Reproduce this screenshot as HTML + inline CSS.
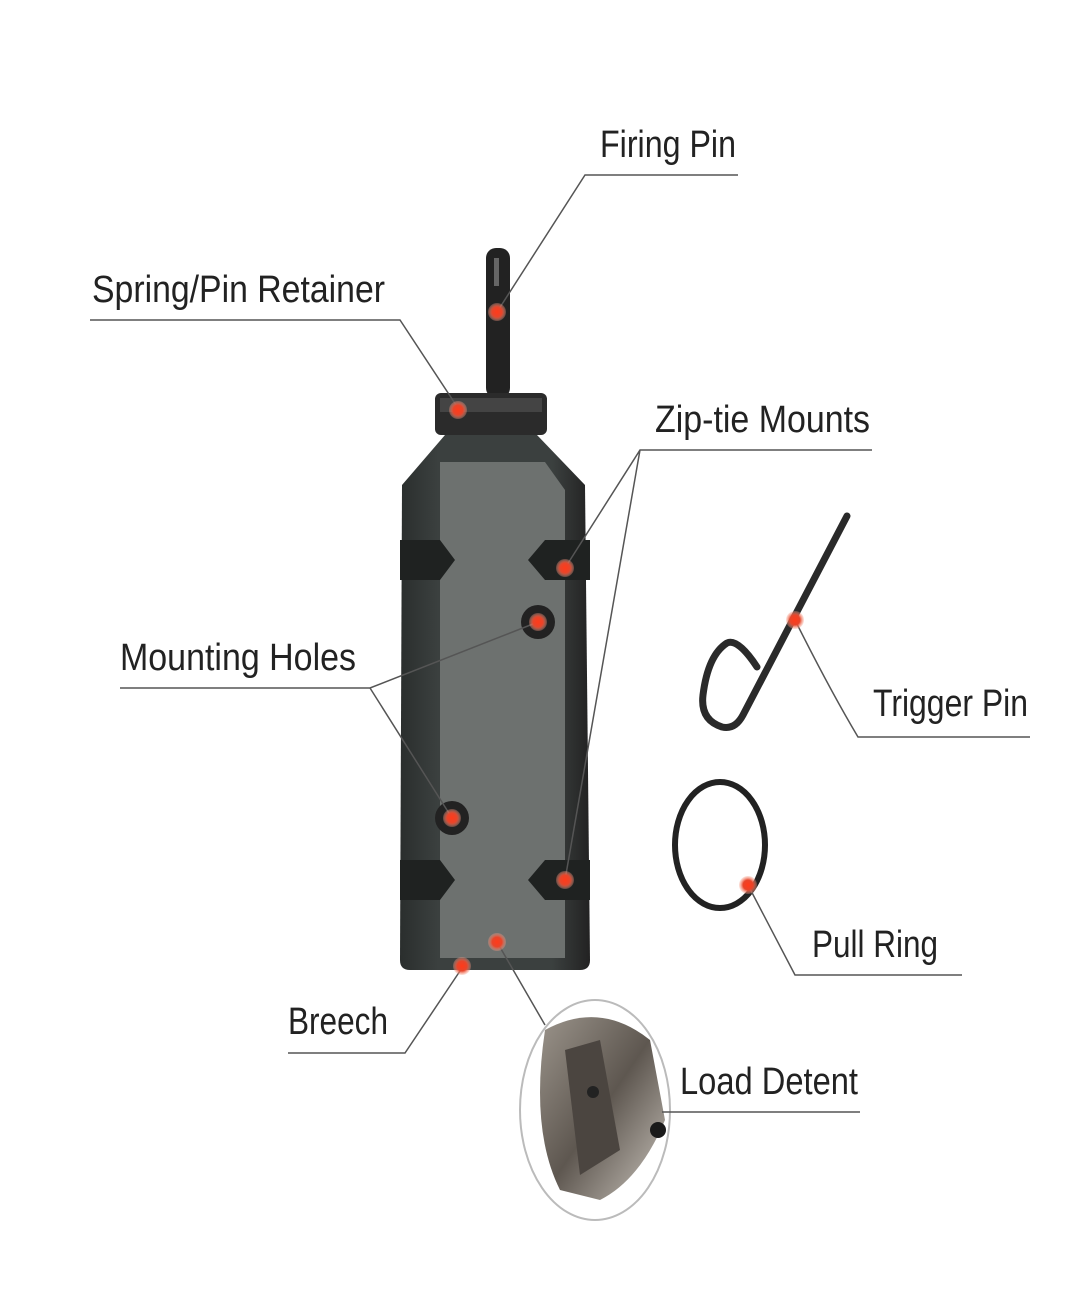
<!DOCTYPE html>
<html><head><meta charset="utf-8"><style>html,body{margin:0;padding:0;background:#fff}svg{display:block}</style></head>
<body>
<svg width="1079" height="1303" viewBox="0 0 1079 1303" xmlns="http://www.w3.org/2000/svg">
<defs>
<radialGradient id="dot"><stop offset="0" stop-color="#ff3a1a"/><stop offset="0.55" stop-color="#e8452a"/><stop offset="1" stop-color="#f7a08a" stop-opacity="0.3"/></radialGradient>
<linearGradient id="body" x1="0" x2="1"><stop offset="0" stop-color="#2a2e2d"/><stop offset="0.2" stop-color="#3b403f"/><stop offset="0.8" stop-color="#3b403f"/><stop offset="1" stop-color="#222"/></linearGradient>
<linearGradient id="metal" x1="0" x2="1" y1="0" y2="1"><stop offset="0" stop-color="#9a938a"/><stop offset="0.5" stop-color="#5e5750"/><stop offset="1" stop-color="#c9c3bb"/></linearGradient>
</defs>
<g font-family="Liberation Sans, sans-serif" font-size="38" fill="#222">
<text x="600" y="157" textLength="136" lengthAdjust="spacingAndGlyphs">Firing Pin</text>
<text x="92" y="302" textLength="293" lengthAdjust="spacingAndGlyphs">Spring/Pin Retainer</text>
<text x="655" y="432" textLength="215" lengthAdjust="spacingAndGlyphs">Zip-tie Mounts</text>
<text x="120" y="670" textLength="236" lengthAdjust="spacingAndGlyphs">Mounting Holes</text>
<text x="873" y="716" textLength="155" lengthAdjust="spacingAndGlyphs">Trigger Pin</text>
<text x="812" y="957" textLength="126" lengthAdjust="spacingAndGlyphs">Pull Ring</text>
<text x="288" y="1034" textLength="100" lengthAdjust="spacingAndGlyphs">Breech</text>
<text x="680" y="1094" textLength="178" lengthAdjust="spacingAndGlyphs">Load Detent</text>
</g>
<rect x="486" y="248" width="24" height="150" rx="10" fill="#222"/>
<rect x="494" y="258" width="5" height="28" fill="#666"/>
<rect x="435" y="393" width="112" height="42" rx="6" fill="#2b2b2b"/>
<rect x="440" y="398" width="102" height="14" fill="#555" opacity="0.6"/>
<path d="M445 435 L537 435 L585 485 L590 960 Q590 970 580 970 L410 970 Q400 970 400 960 L402 485 Z" fill="url(#body)"/>
<path d="M440 462 L545 462 L565 490 L565 958 L440 958 Z" fill="#6d716f"/>
<g fill="#1f2221">
<path d="M400 540 L440 540 L455 560 L440 580 L400 580 Z"/>
<path d="M590 540 L545 540 L528 560 L545 580 L590 580 Z"/>
<path d="M400 860 L440 860 L455 880 L440 900 L400 900 Z"/>
<path d="M590 860 L545 860 L528 880 L545 900 L590 900 Z"/>
</g>
<circle cx="538" cy="622" r="17" fill="#222"/>
<circle cx="452" cy="818" r="17" fill="#222"/>
<path d="M847 516 L743 715 Q735 730 722 727 Q700 720 703 695 Q708 655 727 643 Q738 638 757 667" fill="none" stroke="#2a2a2a" stroke-width="7" stroke-linecap="round" stroke-linejoin="round"/>
<ellipse cx="720" cy="845" rx="45" ry="63" fill="none" stroke="#222" stroke-width="6"/>
<ellipse cx="595" cy="1110" rx="75" ry="110" fill="#fff" stroke="#bbb" stroke-width="2"/>
<path d="M545 1030 Q600 1000 650 1040 L665 1120 Q640 1180 600 1200 L560 1190 Q530 1130 545 1030 Z" fill="url(#metal)"/>
<path d="M565 1050 L600 1040 L620 1150 L580 1175 Z" fill="#4b4540"/>
<circle cx="593" cy="1092" r="6" fill="#222"/>
<circle cx="658" cy="1130" r="8" fill="#1a1a1a"/>
<g stroke="#555" stroke-width="1.5" fill="none">
<path d="M738 175 L585 175 L497 312"/>
<path d="M90 320 L400 320 L458 408"/>
<path d="M872 450 L640 450 L565 568 M640 450 L565 880"/>
<path d="M120 688 L370 688 L538 622 M370 688 L452 818"/>
<path d="M1030 737 L858 737 Q830 690 795 620"/>
<path d="M962 975 L795 975 L748 885"/>
<path d="M288 1053 L405 1053 L462 968"/>
<path d="M860 1112 L662 1112 M545 1025 L497 942"/>
</g>
<g fill="url(#dot)">
<circle cx="497" cy="312" r="9"/><circle cx="458" cy="410" r="9"/>
<circle cx="565" cy="568" r="9"/><circle cx="538" cy="622" r="9"/>
<circle cx="452" cy="818" r="9"/><circle cx="565" cy="880" r="9"/>
<circle cx="795" cy="620" r="9"/><circle cx="748" cy="885" r="9"/>
<circle cx="462" cy="966" r="9"/><circle cx="497" cy="942" r="9"/>
</g>
</svg>
</body></html>
